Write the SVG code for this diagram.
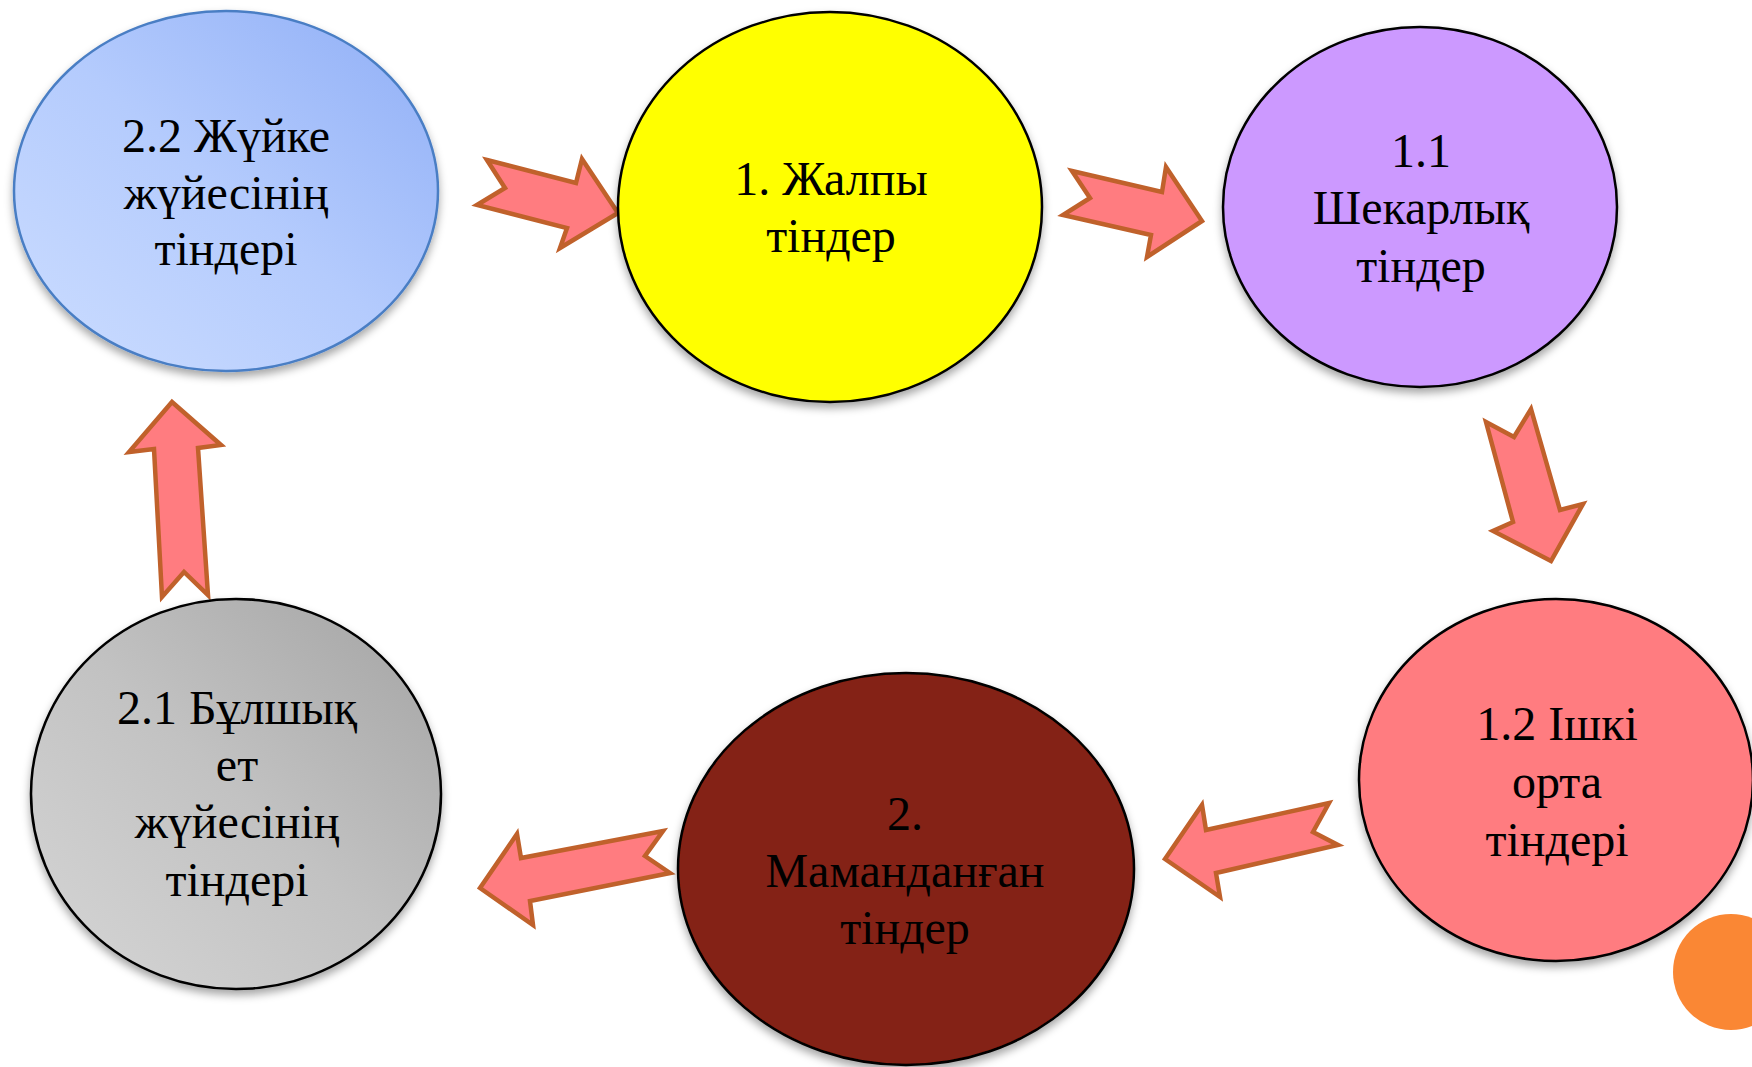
<svg xmlns="http://www.w3.org/2000/svg" width="1752" height="1067" viewBox="0 0 1752 1067">
<defs>
<linearGradient id="gBlue" x1="0" y1="1" x2="1" y2="0">
<stop offset="0" stop-color="#CCDDFF"/>
<stop offset="0.5" stop-color="#B4CBFD"/>
<stop offset="1" stop-color="#8FAEF6"/>
</linearGradient>
<linearGradient id="gGray" x1="0" y1="1" x2="1" y2="0">
<stop offset="0" stop-color="#D6D6D6"/>
<stop offset="0.5" stop-color="#C2C2C2"/>
<stop offset="1" stop-color="#A3A3A3"/>
</linearGradient>
<filter id="sh" x="-10%" y="-10%" width="120%" height="125%">
<feDropShadow dx="0" dy="5" stdDeviation="4" flood-color="#000" flood-opacity="0.35"/>
</filter>
</defs>
<style>
.n{stroke:#000;stroke-width:2.5;filter:url(#sh)}
.t{font-family:"Liberation Serif","Times New Roman",serif;font-size:48px;fill:#000;text-anchor:middle}
.a{fill:#FF7C80;stroke:#C0612B;stroke-width:4.5;stroke-linejoin:miter}
</style>
<rect width="1752" height="1067" fill="#fff"/>
<g id="connectors">
<polygon class="a" points="487,160 576,183 582,159 618,213 560,248 567,228 477,205 505,188"/>
<polygon class="a" points="1072,171 1162,192 1166,167 1202,221 1147,257 1151,235 1063,215 1090,198"/>
<polygon class="a" points="1486,422 1514,437 1531,409 1560,510 1583,504 1551,561 1493,531 1513,522"/>
<polygon class="a" points="1165,859 1202,805 1206,830 1329,803 1313,832 1338,845 1216,873 1220,897"/>
<polygon class="a" points="480,888 517,834 521,858 663,831 645,856 670,873 530,901 533,925"/>
<polygon class="a" points="172,402 221,445 198,448 208,595 184,572 162,597 154,449 129,452"/>
</g>
<g id="n22">
<ellipse class="n" cx="226" cy="191" rx="212" ry="180" fill="url(#gBlue)" style="stroke:#4A7EC4"/>
<text class="t" x="226" y="152">2.2 Жүйке</text>
<text class="t" x="226" y="209">жүйесінің</text>
<text class="t" x="226" y="265">тіндері</text>
</g>
<g id="n1">
<ellipse class="n" cx="830" cy="207" rx="212" ry="195" fill="#FFFF00"/>
<text class="t" x="831" y="195">1. Жалпы</text>
<text class="t" x="831" y="252">тіндер</text>
</g>
<g id="n11">
<ellipse class="n" cx="1420" cy="207" rx="197" ry="180" fill="#CC99FF"/>
<text class="t" x="1421" y="167">1.1</text>
<text class="t" x="1421" y="224">Шекарлық</text>
<text class="t" x="1421" y="282">тіндер</text>
</g>
<g id="n12">
<ellipse class="n" cx="1556" cy="780" rx="197" ry="181" fill="#FF7C80"/>
<text class="t" x="1557" y="740">1.2 Ішкі</text>
<text class="t" x="1557" y="798">орта</text>
<text class="t" x="1557" y="856">тіндері</text>
</g>
<g id="n2">
<ellipse class="n" cx="906" cy="869" rx="228" ry="196" fill="#842012"/>
<text class="t" x="905" y="830">2.</text>
<text class="t" x="905" y="887">Маманданған</text>
<text class="t" x="905" y="944">тіндер</text>
</g>
<g id="n21">
<ellipse class="n" cx="236" cy="794" rx="205" ry="195" fill="url(#gGray)"/>
<text class="t" x="237" y="724">2.1 Бұлшық</text>
<text class="t" x="237" y="781">ет</text>
<text class="t" x="237" y="838">жүйесінің</text>
<text class="t" x="237" y="896">тіндері</text>
</g>
<circle cx="1731" cy="972" r="58" fill="#FA8734"/>
</svg>
